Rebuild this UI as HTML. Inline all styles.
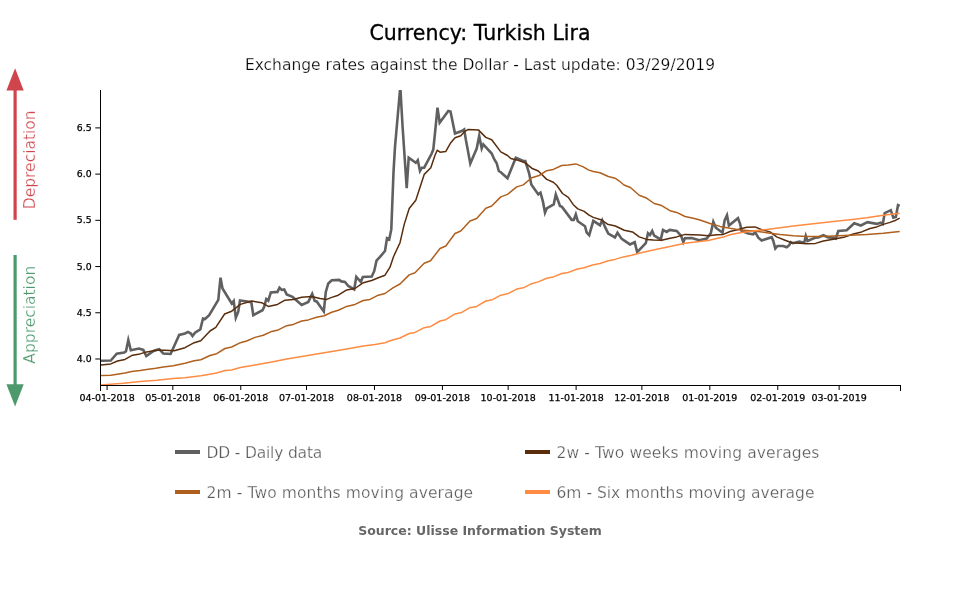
<!DOCTYPE html>
<html lang="en"><head><meta charset="utf-8"><title>Currency: Turkish Lira</title>
<style>
html,body{margin:0;padding:0;background:#fff;}
body{width:960px;height:600px;overflow:hidden;}
svg{display:block;}
text{font-family:"DejaVu Sans","Liberation Sans",sans-serif;}
.lt{font-weight:normal;stroke:#fff;stroke-width:0.25px;}
.tk{font-size:9.3px;font-weight:normal;fill:#000;stroke:#000;stroke-width:0.25px;}
</style></head><body>
<svg width="960" height="600" viewBox="0 0 960 600">
<rect width="960" height="600" fill="#fff"/>
<text x="480" y="39.75" text-anchor="middle" font-size="20.5" fill="#000" stroke="#000" stroke-width="0.3">Currency: Turkish Lira</text>
<text class="lt" x="480" y="69.75" text-anchor="middle" font-size="15.5" fill="#000">Exchange rates against the Dollar - Last update: 03/29/2019</text>
<g fill="#d0454c" stroke="none"><rect x="13.5" y="88" width="3.2" height="131.8"/><polygon points="15.1,68.3 23.7,90.4 6.4,90.4"/></g>
<g fill="#4c9a6c" stroke="none"><rect x="13.5" y="255" width="3.2" height="131"/><polygon points="15.1,406.4 23.7,384.3 6.4,384.3"/></g>
<text class="lt" transform="translate(35,159.8) rotate(-90)" text-anchor="middle" font-size="15.5" fill="#d0454c">Depreciation</text>
<text class="lt" transform="translate(35,314.7) rotate(-90)" text-anchor="middle" font-size="15.5" fill="#4c9a6c">Appreciation</text>
<clipPath id="c"><rect x="100.5" y="90" width="800.0" height="295.5"/></clipPath>
<g clip-path="url(#c)" fill="none" stroke-linejoin="round" stroke-linecap="butt">
<path d="M101.0,360.7 L110.8,360.5 L116.7,353.7 L124.2,352.5 L126.0,351.2 L128.3,339.9 L130.8,350.2 L139.0,348.5 L143.3,349.9 L146.3,356.0 L154.0,350.7 L159.2,349.2 L163.3,353.5 L170.6,354.0 L179.2,334.9 L185.0,333.5 L188.0,331.9 L190.8,333.5 L192.5,336.0 L195.0,332.7 L200.3,329.4 L203.0,318.5 L205.0,319.0 L209.2,315.2 L218.3,299.9 L220.5,277.7 L222.5,288.5 L231.7,303.5 L233.7,301.0 L235.8,317.7 L238.2,311.9 L240.0,300.4 L251.3,302.2 L253.3,315.2 L262.5,310.2 L264.2,306.9 L266.3,299.0 L268.3,300.7 L270.8,292.4 L277.5,291.9 L279.5,287.7 L281.7,289.9 L284.2,289.4 L286.7,294.4 L292.5,296.9 L301.7,304.9 L308.3,301.9 L312.2,293.9 L314.7,301.0 L316.7,301.5 L323.8,311.5 L325.8,291.9 L328.3,283.5 L331.7,280.2 L339.2,279.9 L341.3,281.4 L345.0,281.9 L348.3,286.0 L354.2,289.4 L356.3,276.9 L360.8,281.9 L362.8,276.9 L371.7,276.5 L374.2,271.2 L376.5,260.7 L380.0,256.9 L385.0,251.0 L387.0,238.2 L389.2,239.4 L391.3,229.4 L393.5,172.2 L395.0,146.9 L400.3,86.7 L402.5,125.2 L406.7,188.2 L408.7,157.7 L415.8,162.7 L417.8,160.2 L420.0,171.0 L422.0,167.7 L424.2,167.7 L431.7,153.5 L433.3,149.4 L435.3,130.2 L437.5,107.7 L439.7,122.7 L448.3,111.0 L450.5,111.5 L455.0,133.5 L461.7,131.0 L464.2,129.4 L465.8,139.4 L470.3,163.5 L476.7,148.5 L479.2,136.0 L481.7,148.5 L483.3,144.4 L491.7,153.5 L494.2,159.2 L496.7,163.2 L498.8,171.0 L500.8,172.2 L507.5,178.2 L515.8,157.7 L523.3,161.0 L525.3,161.0 L529.2,173.5 L531.3,184.4 L538.3,194.4 L540.5,192.7 L543.0,201.9 L545.0,212.7 L546.7,208.5 L553.7,204.4 L555.8,194.4 L560.0,206.0 L562.0,206.9 L571.7,219.9 L573.8,219.9 L575.8,214.4 L577.8,221.2 L585.0,226.2 L586.7,232.7 L589.2,235.2 L593.3,220.8 L600.0,225.2 L602.2,220.2 L605.0,226.9 L608.3,233.5 L615.0,237.4 L617.5,232.7 L621.7,238.9 L630.0,244.4 L634.7,242.2 L637.2,252.2 L645.8,243.2 L648.0,233.2 L650.0,234.9 L652.2,231.0 L654.2,235.7 L660.8,239.4 L663.0,229.9 L666.7,231.9 L669.7,229.9 L676.7,231.0 L681.2,236.0 L683.3,242.2 L685.0,238.2 L691.7,238.0 L699.2,240.2 L706.7,238.5 L710.8,233.2 L713.3,221.7 L715.8,227.7 L722.5,232.7 L724.7,220.2 L727.0,215.2 L728.9,225.6 L738.0,218.2 L740.0,223.5 L741.7,231.0 L748.3,233.5 L753.3,234.4 L755.0,231.9 L758.3,237.7 L761.7,240.5 L771.7,237.2 L773.3,241.0 L775.3,248.5 L777.5,246.0 L783.3,246.0 L786.7,247.2 L789.2,245.2 L790.8,242.2 L793.0,243.2 L799.2,241.5 L804.2,242.7 L805.8,236.0 L807.5,241.0 L815.0,237.7 L818.3,237.4 L823.3,235.2 L828.3,237.4 L833.3,237.7 L835.8,238.5 L838.3,231.0 L846.7,230.2 L854.2,223.2 L860.8,225.5 L867.5,222.2 L876.7,223.9 L880.8,222.7 L882.8,223.9 L884.7,213.2 L890.8,210.2 L893.3,217.7 L895.8,216.9 L898.0,205.2 L899.7,206.0" stroke="#606060" stroke-width="2.6" stroke-linejoin="miter" stroke-miterlimit="6"/>
<path d="M101.0,364.9 L110.8,363.9 L117.5,361.0 L125.0,359.4 L132.5,355.2 L140.0,353.9 L146.7,351.9 L156.7,350.2 L165.0,350.2 L174.2,350.7 L185.0,347.7 L194.2,342.7 L200.8,340.7 L210.0,331.0 L215.8,327.3 L224.6,314.0 L231.7,311.2 L240.4,304.4 L251.7,301.0 L261.7,302.7 L268.3,306.4 L277.5,304.4 L285.0,300.2 L293.3,299.4 L301.7,297.2 L311.7,296.5 L320.0,298.5 L326.7,299.4 L331.7,297.4 L338.3,295.2 L346.7,289.9 L355.0,288.5 L363.3,282.7 L371.7,280.5 L378.3,277.7 L385.0,275.2 L390.0,267.2 L393.5,256.7 L400.0,242.7 L404.2,224.4 L409.2,208.5 L415.8,200.2 L424.2,174.4 L430.8,167.7 L435.0,155.2 L437.2,150.2 L440.0,152.2 L445.8,151.4 L450.8,142.7 L455.0,137.7 L460.8,135.7 L464.2,131.9 L468.3,129.4 L478.3,129.9 L485.8,137.4 L491.7,139.7 L500.8,151.9 L507.5,155.5 L510.8,158.5 L516.7,159.9 L525.0,162.7 L531.7,168.2 L538.3,171.0 L546.7,179.4 L553.3,182.2 L556.7,185.2 L562.5,193.5 L568.3,197.4 L573.3,204.7 L577.8,208.9 L584.2,211.4 L589.0,215.2 L593.3,217.4 L601.7,220.0 L607.5,224.2 L615.4,226.0 L624.2,230.2 L632.5,231.9 L639.2,236.9 L646.7,239.4 L653.3,239.9 L661.7,240.2 L670.0,238.2 L676.7,236.9 L685.0,234.4 L700.0,235.0 L708.3,235.7 L716.7,234.7 L723.3,234.4 L730.0,231.5 L738.3,229.4 L746.7,227.2 L755.0,226.9 L761.7,229.7 L770.0,231.9 L776.7,236.9 L785.0,240.2 L791.7,242.7 L800.0,243.2 L806.7,243.7 L815.5,243.4 L823.3,241.0 L833.3,239.2 L845.0,236.9 L853.3,234.0 L861.7,231.9 L870.0,228.5 L876.7,226.9 L883.3,224.4 L890.0,222.4 L895.8,220.2 L899.7,218.2" stroke="#5a2d0c" stroke-width="1.5"/>
<path d="M101.0,375.5 L110.8,375.2 L125.0,373.0 L131.7,371.5 L140.0,370.5 L146.7,369.4 L155.8,368.2 L163.3,366.9 L173.3,365.7 L185.0,363.2 L194.2,360.7 L200.8,359.7 L210.0,355.5 L216.7,353.7 L225.0,348.5 L231.7,347.0 L240.4,342.7 L246.7,341.0 L255.0,337.4 L263.3,335.2 L271.7,331.4 L278.3,329.9 L286.7,325.7 L293.3,324.4 L301.7,321.0 L308.3,319.9 L316.7,317.2 L324.2,315.7 L331.7,312.2 L338.3,310.2 L346.7,306.4 L355.0,304.4 L363.3,300.5 L370.0,299.4 L378.3,295.2 L385.0,293.5 L393.3,287.7 L400.0,284.0 L409.2,274.9 L415.0,272.7 L424.2,263.2 L430.5,260.8 L440.0,248.5 L445.8,246.0 L455.0,233.5 L460.8,231.0 L470.0,221.0 L476.7,218.5 L485.8,208.2 L491.7,206.0 L500.8,196.9 L507.5,194.4 L516.7,186.9 L523.3,184.9 L531.7,177.7 L539.2,175.5 L546.7,170.7 L553.3,169.4 L561.7,165.5 L568.3,164.9 L575.8,163.9 L583.3,166.9 L588.3,169.9 L593.3,171.5 L600.0,172.7 L608.3,176.5 L615.0,178.2 L619.0,180.8 L624.0,185.0 L630.4,187.5 L639.2,195.3 L645.8,197.7 L654.2,203.5 L660.8,205.2 L670.0,210.7 L676.7,212.4 L685.0,216.5 L693.3,218.2 L700.0,220.0 L710.0,223.5 L720.0,226.4 L730.0,228.3 L740.0,229.9 L753.3,231.0 L766.7,232.7 L780.0,234.4 L793.3,235.7 L806.7,236.5 L820.0,236.4 L833.3,236.0 L850.0,235.2 L866.7,234.4 L883.3,233.2 L899.7,231.4" stroke="#b0601e" stroke-width="1.5"/>
<path d="M101.0,384.9 L123.3,383.2 L140.0,381.5 L156.7,380.2 L173.3,378.5 L185.0,377.7 L200.8,375.7 L216.7,373.0 L225.0,370.5 L231.7,369.9 L240.4,367.6 L255.0,364.9 L271.7,361.9 L286.7,358.9 L301.7,356.5 L316.7,354.0 L331.7,351.5 L346.7,348.9 L363.3,346.0 L375.0,344.4 L385.0,342.7 L390.0,340.7 L400.0,338.0 L409.2,333.5 L415.0,332.4 L424.2,327.7 L430.8,326.4 L440.0,321.0 L445.8,319.7 L455.0,313.9 L461.7,312.4 L470.0,307.7 L476.7,306.4 L485.8,301.0 L492.5,299.7 L500.8,295.2 L507.5,293.8 L516.7,289.1 L523.3,287.8 L531.7,283.7 L538.3,281.9 L546.7,278.2 L553.3,276.9 L561.7,273.5 L568.3,272.4 L577.5,269.0 L584.2,267.7 L592.5,265.0 L600.0,263.5 L608.3,260.7 L615.0,259.4 L623.3,256.9 L631.7,255.2 L640.0,253.1 L653.3,250.1 L670.0,246.4 L685.0,243.2 L700.0,241.6 L708.3,240.4 L716.7,238.4 L723.3,237.1 L730.0,234.7 L740.0,232.7 L753.3,231.0 L766.7,229.4 L780.0,227.7 L793.3,226.0 L806.7,224.4 L820.0,222.9 L833.3,221.4 L850.0,219.7 L866.7,217.7 L883.3,215.2 L899.7,213.2" stroke="#ff8c42" stroke-width="1.5"/>
</g>
<g stroke="#000" stroke-width="1" fill="none"><path d="M100.5,90 V391 M100.0,385.5 H901.0 M900.5,385.5 V391"/><path d="M95.3,127.90 H100.5"/><path d="M95.3,174.12 H100.5"/><path d="M95.3,220.34 H100.5"/><path d="M95.3,266.56 H100.5"/><path d="M95.3,312.78 H100.5"/><path d="M95.3,359.00 H100.5"/><path d="M107.08,385.5 V390"/><path d="M172.83,385.5 V390"/><path d="M240.77,385.5 V390"/><path d="M306.53,385.5 V390"/><path d="M374.47,385.5 V390"/><path d="M442.42,385.5 V390"/><path d="M508.17,385.5 V390"/><path d="M576.12,385.5 V390"/><path d="M641.87,385.5 V390"/><path d="M709.82,385.5 V390"/><path d="M777.76,385.5 V390"/><path d="M839.13,385.5 V390"/></g>
<text class="tk" x="91.6" y="131.05" text-anchor="end">6.5</text><text class="tk" x="91.6" y="177.27" text-anchor="end">6.0</text><text class="tk" x="91.6" y="223.49" text-anchor="end">5.5</text><text class="tk" x="91.6" y="269.71" text-anchor="end">5.0</text><text class="tk" x="91.6" y="315.93" text-anchor="end">4.5</text><text class="tk" x="91.6" y="362.15" text-anchor="end">4.0</text>
<text class="tk" style="font-size:9.5px" x="107.08" y="400.6" text-anchor="middle">04-01-2018</text><text class="tk" style="font-size:9.5px" x="172.83" y="400.6" text-anchor="middle">05-01-2018</text><text class="tk" style="font-size:9.5px" x="240.77" y="400.6" text-anchor="middle">06-01-2018</text><text class="tk" style="font-size:9.5px" x="306.53" y="400.6" text-anchor="middle">07-01-2018</text><text class="tk" style="font-size:9.5px" x="374.47" y="400.6" text-anchor="middle">08-01-2018</text><text class="tk" style="font-size:9.5px" x="442.42" y="400.6" text-anchor="middle">09-01-2018</text><text class="tk" style="font-size:9.5px" x="508.17" y="400.6" text-anchor="middle">10-01-2018</text><text class="tk" style="font-size:9.5px" x="576.12" y="400.6" text-anchor="middle">11-01-2018</text><text class="tk" style="font-size:9.5px" x="641.87" y="400.6" text-anchor="middle">12-01-2018</text><text class="tk" style="font-size:9.5px" x="709.82" y="400.6" text-anchor="middle">01-01-2019</text><text class="tk" style="font-size:9.5px" x="777.76" y="400.6" text-anchor="middle">02-01-2019</text><text class="tk" style="font-size:9.5px" x="839.13" y="400.6" text-anchor="middle">03-01-2019</text>
<rect x="175" y="450" width="25" height="4" fill="#5f5f5f"/><text class="lt" x="206.5" y="457.8" font-size="15.5" textLength="115.8" lengthAdjust="spacing" fill="#5a5a5a" style="stroke-width:0.25px">DD - Daily data</text>
<rect x="525" y="450" width="25" height="4" fill="#5a2d0c"/><text class="lt" x="556.5" y="457.8" font-size="15.5" textLength="262.95" lengthAdjust="spacing" fill="#5a5a5a" style="stroke-width:0.25px">2w - Two weeks moving averages</text>
<rect x="175" y="490" width="25" height="4" fill="#b0601e"/><text class="lt" x="206.5" y="497.8" font-size="15.5" textLength="266.65" lengthAdjust="spacing" fill="#5a5a5a" style="stroke-width:0.25px">2m - Two months moving average</text>
<rect x="525" y="490" width="25" height="4" fill="#ff8c42"/><text class="lt" x="556.5" y="497.8" font-size="15.5" textLength="257.95" lengthAdjust="spacing" fill="#5a5a5a" style="stroke-width:0.25px">6m - Six months moving average</text>
<text x="480" y="534.5" text-anchor="middle" font-size="12.5" font-weight="bold" fill="#666">Source: Ulisse Information System</text>
</svg></body></html>
